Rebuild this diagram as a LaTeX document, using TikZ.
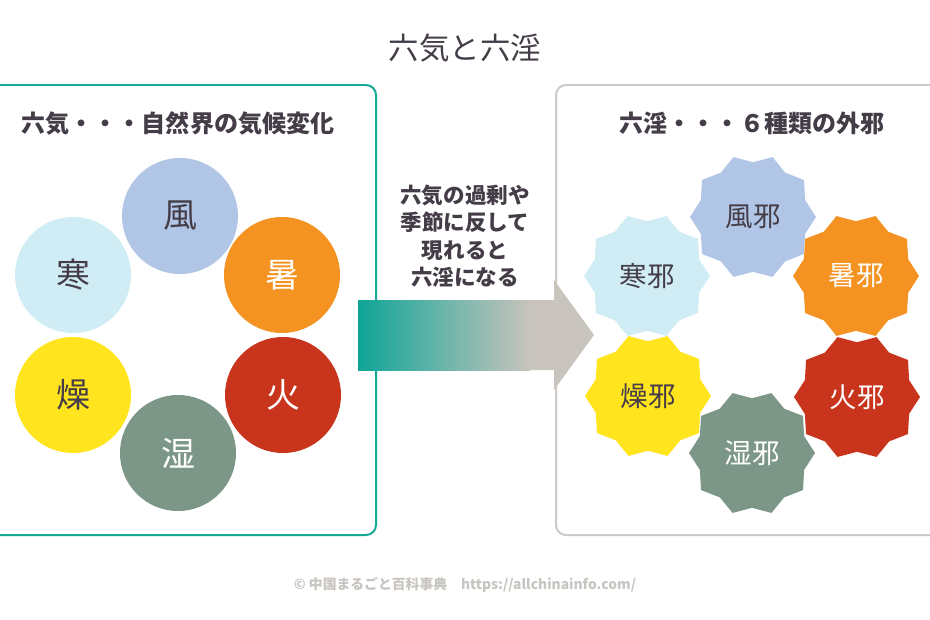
\documentclass[tikz,border=0pt]{standalone}
\usepackage{fontspec}
\setmainfont{Noto Sans CJK JP}
\usetikzlibrary{shapes.geometric, positioning}
\definecolor{inkgray}{RGB}{68,60,70}
\definecolor{tealline}{RGB}{22,168,150}
\definecolor{boxgray}{RGB}{206,201,196}
\definecolor{arrowteal}{RGB}{14,165,150}
\definecolor{arrowgray}{RGB}{201,196,189}
\definecolor{kazeblue}{RGB}{177,198,230}
\definecolor{shoorange}{RGB}{245,147,34}
\definecolor{kared}{RGB}{201,52,28}
\definecolor{shitsugreen}{RGB}{124,151,136}
\definecolor{soyellow}{RGB}{255,228,30}
\definecolor{kanblue}{RGB}{208,237,246}
\definecolor{footgray}{RGB}{200,196,192}
\tikzset{
  ball/.style={circle, minimum size=3.48cm, inner sep=0pt,
              font=\fontsize{29}{32}\selectfont},
  evil/.style={star, star points=10, star point ratio=1.15, shape border rotate=18,
              minimum size=3.78cm, inner sep=0pt, font=\fontsize{23.5}{26}\selectfont},
  heading/.style={font=\bfseries\fontsize{20.5}{24}\selectfont, text=inkgray},
  panel/.style={rounded corners=0.3cm, line width=1.7pt, fill=white},
}

\begin{document}
\begin{tikzpicture}[x=0.03cm, y=-0.03cm]
    \useasboundingbox (0,0) rectangle (930,620);
    \clip (0,0) rectangle (930,620);

    \node[font=\fontsize{26}{30}\selectfont, text=inkgray] (title) at (465,48) {六気と六淫};

    % two panels
    \draw[panel, draw=tealline] (-30,85) rectangle (376,535);
    \draw[panel, draw=boxgray] (556,85) rectangle (960,535);
    \node[heading] (kihead) at (178,123) {六気・・・自然界の気候変化};
    \node[heading] (inhead) at (752,123) {六淫・・・６種類の外邪};

    % big arrow
    \shade[left color=arrowteal, right color=arrowgray] (358,300) rectangle (530,370);
    \fill[arrowgray] (529,300) -- (554,300) -- (554,280) -- (594,335)
        -- (554,390) -- (554,370) -- (529,370) -- cycle;
    \node[font=\bfseries\fontsize{18.4}{23.3}\selectfont, text=inkgray, align=center]
        (note) at (465,236) {六気の過剰や\\季節に反して\\現れると\\六淫になる};

    % six qi
    \node[ball, fill=kazeblue, text=inkgray] (fu) at (180,216) {風};
    \node[ball, fill=shoorange, text=white] (sho) at (282,275) {暑};
    \node[ball, fill=kared, text=white] (ka) at (283,395) {火};
    \node[ball, fill=shitsugreen, text=white] (shitsu) at (178,453) {湿};
    \node[ball, fill=soyellow, text=inkgray] (so) at (73,395) {燥};
    \node[ball, fill=kanblue, text=inkgray] (kan) at (73,275) {寒};

    % six evils
    \node[evil, fill=kazeblue, text=inkgray] (fuja) at (753,217) {風邪};
    \node[evil, fill=shoorange, text=white] (shoja) at (856,276) {暑邪};
    \node[evil, fill=kared, text=white] (kaja) at (857,397) {火邪};
    \node[evil, fill=shitsugreen, text=white] (shitsuja) at (752,453) {湿邪};
    \node[evil, fill=soyellow, text=inkgray] (soja) at (648,396) {燥邪};
    \node[evil, fill=kanblue, text=inkgray] (kanja) at (647,276) {寒邪};

    \node[font=\bfseries\fontsize{11.8}{14}\selectfont, text=footgray] (foot) at (465,585)
        {© 中国まるごと百科事典　https://allchinainfo.com/};
\end{tikzpicture}
\end{document}
